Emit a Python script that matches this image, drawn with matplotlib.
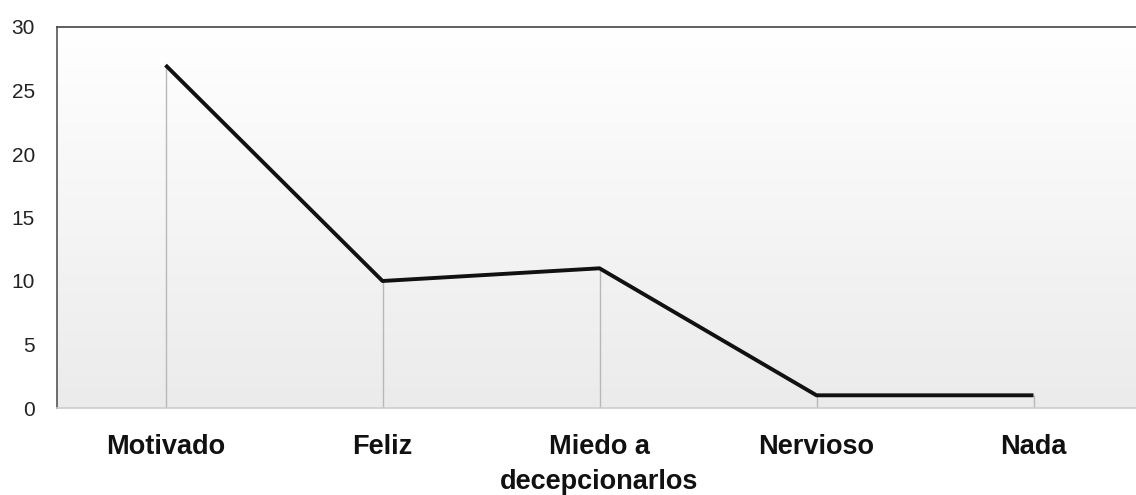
import numpy as np
import matplotlib
matplotlib.use("Agg")
import matplotlib.pyplot as plt
from matplotlib.colors import LinearSegmentedColormap

# data
categories = ["Motivado", "Feliz", "Miedo a\ndecepcionarlos", "Nervioso", "Nada"]
values = [27, 10, 11, 1, 1]
y_ticks = [0, 5, 10, 15, 20, 25, 30]

dpi = 100
fig = plt.figure(figsize=(1136 / dpi, 495 / dpi), dpi=dpi)
# axes runs a little past the right edge of the picture, like the original
ax = fig.add_axes([57 / 1136, 87 / 495, 1085 / 1136, 381 / 495])

x = np.arange(len(categories))
ax.set_xlim(-0.5, len(categories) - 0.5)
ax.set_ylim(0, 30)

# soft vertical gradient behind the plot
grad = np.linspace(0, 1, 256).reshape(-1, 1)
cmap = LinearSegmentedColormap.from_list("bg", ["#ebebeb", "#ffffff"])
ax.imshow(grad, aspect="auto", cmap=cmap, origin="lower",
          extent=[-0.5, len(categories) - 0.5, 0, 30], zorder=0)

# drop lines from each point down to the axis
ax.vlines(x, 0, values, color="#b8b8b8", linewidth=1, zorder=1)
ax.plot(x, values, color="#111111", linewidth=2.8, solid_capstyle="butt", zorder=2)

ax.set_xticks(x)
ax.set_xticklabels(categories, family=["Liberation Sans", "DejaVu Sans"],
                   fontweight="bold", fontsize=19.5, color="#111111", linespacing=1.45)
ax.set_yticks(y_ticks)
ax.set_yticklabels([str(t) for t in y_ticks], family=["Liberation Sans", "DejaVu Sans"],
                   fontsize=15, color="#222222")
ax.tick_params(axis="x", length=0, pad=19)
ax.tick_params(axis="y", length=0, pad=16)

ax.spines["left"].set_color("#555555")
ax.spines["left"].set_linewidth(1.2)
ax.spines["top"].set_color("#444444")
ax.spines["top"].set_linewidth(1.2)
ax.spines["bottom"].set_color("#cccccc")
ax.spines["bottom"].set_linewidth(1.2)
ax.spines["right"].set_visible(False)

fig.savefig("out.png", dpi=dpi)
